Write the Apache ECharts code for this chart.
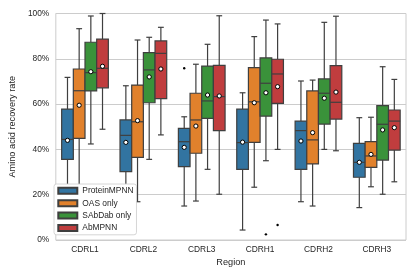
<!DOCTYPE html>
<html>
<head>
<meta charset="utf-8">
<script src="https://cdn.jsdelivr.net/npm/echarts@6/dist/echarts.min.js"></script>
<style>html,body{margin:0;padding:0;background:#fff;}#c{width:416px;height:277px;}</style>
</head>
<body>
<div id="c"></div>
<script>
// Categories and tick labels
const categories = ['CDRL1', 'CDRL2', 'CDRL3', 'CDRH1', 'CDRH2', 'CDRH3'];
const seriesNames = ['ProteinMPNN', 'OAS only', 'SAbDab only', 'AbMPNN'];
const seriesColors = ['#3274a1', '#e1812c', '#3a923a', '#c03d3e'];
const yTicks = [0, 20, 40, 60, 80, 100];

// Box stats per category: [low whisker, q1, median, q3, high whisker] (%)
const proteinMPNN = [
  [12, 35.6, 44.4, 57.8, 71.8],
  [18, 30.2, 46.2, 53.0, 68.1],
  [15, 32.4, 43.4, 49.3, 54.4],
  [4.4, 31.2, 43.0, 57.8, 65.0],
  [16.9, 31.2, 48.3, 52.5, 70.2],
  [14.3, 27.7, 34.3, 42.7, 54.0]
];
const oasOnly = [
  [14, 44.9, 65.9, 75.5, 93.3],
  [16.9, 36.5, 52.2, 68.4, 88.3],
  [17.2, 38.3, 53.0, 64.8, 77.6],
  [23.3, 43.1, 61.0, 76.1, 89.8],
  [15.0, 33.6, 44.2, 65.8, 70.6],
  [23.5, 32.1, 37.1, 43.4, 54.2]
];
const sabdabOnly = [
  [42.4, 65.8, 73.9, 87.3, 98.9],
  [35.6, 60.6, 75.1, 82.7, 89.5],
  [31.2, 53.7, 61.4, 76.8, 86.4],
  [35.0, 54.7, 69.2, 80.4, 97.1],
  [40.0, 51.2, 64.8, 71.1, 96.1],
  [20.2, 35.3, 51.1, 59.3, 76.5]
];
const abMPNN = [
  [48.9, 67.2, 75.8, 88.7, 100],
  [46.4, 62.4, 82.4, 87.9, 93.9],
  [20.2, 48.3, 63.3, 77.1, 99.0],
  [40.0, 60.3, 73.3, 79.8, 95.4],
  [39.4, 53.4, 60.8, 77.0, 98.8],
  [25.7, 39.7, 52.5, 57.4, 70.9]
];
// Means per category
const meanProteinMPNN = [44.0, 43.1, 40.9, 43.2, 43.7, 34.3];
const meanOasOnly = [59.5, 52.7, 50.3, 60.6, 47.4, 37.8];
const meanSabdabOnly = [74.3, 72.0, 64.0, 65.0, 62.6, 48.6];
const meanAbMPNN = [76.7, 75.5, 63.6, 67.7, 65.3, 49.6];
// Outliers: [category index, series index, value]
const outliers = [
  [2, 0, 75.8],
  [3, 2, 2.5],
  [3, 3, 6.6]
];

const boxSets = [proteinMPNN, oasOnly, sabdabOnly, abMPNN];
const meanSets = [meanProteinMPNN, meanOasOnly, meanSabdabOnly, meanAbMPNN];
const EDGE = '#3f3f3f';
const FONT = 'Liberation Sans, Arial, sans-serif';
const TEXT = '#262626';

function makeRender(k) {
  return function (params, api) {
    const cat = api.value(0);
    const bw = api.size([1, 0])[0];
    const w = bw * 0.8 / 4;
    const cx = api.coord([cat, 0])[0] + (k - 1.5) * w;
    const y = v => api.coord([cat, v])[1];
    const lo = y(api.value(1)), q1 = y(api.value(2)), med = y(api.value(3)),
          q3 = y(api.value(4)), hi = y(api.value(5)), mn = y(api.value(6));
    const ls = { stroke: EDGE, lineWidth: 1.2 };
    const cw = w / 4;
    return {
      type: 'group',
      children: [
        { type: 'line', shape: { x1: cx, y1: q1, x2: cx, y2: lo }, style: ls },
        { type: 'line', shape: { x1: cx - cw, y1: lo, x2: cx + cw, y2: lo }, style: ls },
        { type: 'line', shape: { x1: cx, y1: q3, x2: cx, y2: hi }, style: ls },
        { type: 'line', shape: { x1: cx - cw, y1: hi, x2: cx + cw, y2: hi }, style: ls },
        { type: 'rect', shape: { x: cx - w / 2, y: q3, width: w, height: q1 - q3 },
          style: { fill: seriesColors[k], stroke: EDGE, lineWidth: 1.2 } },
        { type: 'line', shape: { x1: cx - w / 2, y1: med, x2: cx + w / 2, y2: med }, style: ls },
        { type: 'circle', shape: { cx: cx, cy: mn, r: 2.1 },
          style: { fill: '#ffffff', stroke: '#000000', lineWidth: 1 } }
      ]
    };
  };
}

const series = seriesNames.map((name, k) => ({
  name: name,
  type: 'custom',
  renderItem: makeRender(k),
  itemStyle: { color: seriesColors[k], borderColor: EDGE, borderWidth: 0.8 },
  encode: { x: 0, y: [1, 2, 3, 4, 5, 6] },
  data: boxSets[k].map((b, i) => [i, b[0], b[1], b[2], b[3], b[4], meanSets[k][i]]),
  clip: false,
  z: 2
}));

series.push({
  name: 'outliers',
  type: 'custom',
  renderItem: function (params, api) {
    const cat = api.value(0);
    const k = api.value(1);
    const bw = api.size([1, 0])[0];
    const w = bw * 0.8 / 4;
    const p = api.coord([cat, api.value(2)]);
    return { type: 'circle', shape: { cx: p[0] + (k - 1.5) * w, cy: p[1], r: 1.2 },
      style: { fill: '#000000' } };
  },
  encode: { x: 0, y: 2 },
  data: outliers,
  clip: false,
  z: 2
});

const chart = echarts.init(document.getElementById('c'), null, { renderer: 'canvas' });
chart.setOption({
  backgroundColor: '#ffffff',
  animation: false,
  grid: { left: 50, right: 10, top: 13.5, bottom: 37, show: true, borderColor: '#cccccc', borderWidth: 1, backgroundColor: 'transparent' },
  legend: {
    data: seriesNames,
    orient: 'vertical',
    left: 54, top: 184,
    icon: 'rect',
    itemWidth: 19, itemHeight: 6, itemGap: 1.4,
    padding: [1.3, 3, 1.3, 3.3],
    borderColor: '#cccccc', borderWidth: 0.8, borderRadius: 2.5,
    backgroundColor: '#ffffff',
    textStyle: { fontSize: 8.4, color: TEXT, fontFamily: FONT, lineHeight: 11 }
  },
  xAxis: {
    type: 'category',
    data: categories,
    name: 'Region',
    nameLocation: 'middle',
    nameGap: 17,
    nameTextStyle: { fontSize: 9.2, color: TEXT, fontFamily: FONT },
    axisLine: { show: false },
    axisTick: { show: false },
    splitLine: { show: false },
    axisLabel: { fontSize: 8.4, color: TEXT, fontFamily: FONT, margin: 5.5 }
  },
  yAxis: {
    type: 'value',
    min: yTicks[0], max: yTicks[yTicks.length - 1], interval: 20,
    name: 'Amino acid recovery rate',
    nameLocation: 'middle',
    nameGap: 33,
    nameTextStyle: { fontSize: 9.2, color: TEXT, fontFamily: FONT },
    axisLine: { show: false },
    axisTick: { show: false },
    splitLine: { show: true, lineStyle: { color: '#cccccc', width: 1 } },
    axisLabel: { fontSize: 8.4, color: TEXT, fontFamily: FONT, margin: 6.5, formatter: '{value}%' }
  },
  series: series
});
</script>
</body>
</html>
